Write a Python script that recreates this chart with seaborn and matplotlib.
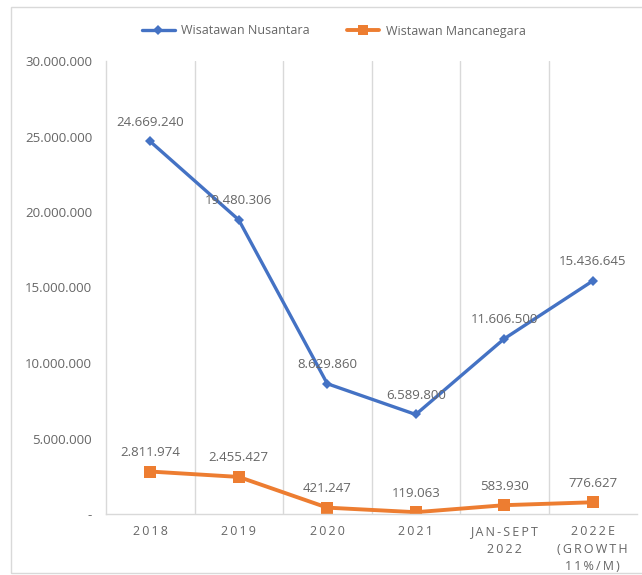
import matplotlib
matplotlib.use("Agg")
import matplotlib.pyplot as plt
from matplotlib.patches import Rectangle
from matplotlib.lines import Line2D
from matplotlib.ticker import FuncFormatter
import seaborn as sns
import pandas as pd

# Data
categories = ["2018", "2019", "2020", "2021", "JAN-SEPT\n2022", "2022E\n(GROWTH\n11%/M)"]
nusantara = [24669240, 19480306, 8629860, 6589800, 11606500, 15436645]
mancanegara = [2811974, 2455427, 421247, 119063, 583930, 776627]
series_names = ["Wisatawan Nusantara", "Wistawan Mancanegara"]

BLUE = "#4472C4"
ORANGE = "#ED7D31"
TEXT = "#666666"
GRID = "#D9D9D9"

sns.set_theme(style="white")
plt.rcParams["font.family"] = ["Open Sans", "DejaVu Sans"]

def spaced(label):
    # widen letter spacing of the category labels
    return "\n".join("\u2009".join(line) for line in label.split("\n"))

def dotted(v):
    return f"{int(v):,}".replace(",", ".")

pos = list(range(len(categories)))
df = pd.DataFrame({
    "pos": pos * 2,
    "value": nusantara + mancanegara,
    "series": [series_names[0]] * len(pos) + [series_names[1]] * len(pos),
})

fig = plt.figure(figsize=(6.42, 5.75), dpi=100)
fig.patch.set_facecolor("white")
fig.patches.append(Rectangle((11 / 642, 1 - 573 / 575), 1.0, 566 / 575,
                             transform=fig.transFigure, fill=False,
                             edgecolor=GRID, linewidth=1.0))

ax = fig.add_axes([106 / 642, 1 - 514 / 575, 531 / 642, 453 / 575])

sns.lineplot(data=df, x="pos", y="value", hue="series", style="series",
             markers={series_names[0]: "D", series_names[1]: "s"},
             dashes=False, palette={series_names[0]: BLUE, series_names[1]: ORANGE},
             ax=ax, legend=False)
lines = ax.get_lines()
lines[0].set_linewidth(2.4)
lines[0].set_markersize(5.5)
lines[1].set_linewidth(2.8)
lines[1].set_markersize(8.5)
for ln in lines:
    ln.set_markeredgewidth(0)

# Value labels above each point
for values in (nusantara, mancanegara):
    for x, v in zip(pos, values):
        ax.annotate(dotted(v), (x, v), xytext=(0, 9),
                    textcoords="offset points", ha="center", va="bottom",
                    fontsize=9.5, color=TEXT)

ax.set_xlim(-0.5, len(categories) - 0.5)
ax.set_ylim(0, 30000000)
ax.set_yticks(range(0, 30000001, 5000000))
ax.yaxis.set_major_formatter(FuncFormatter(lambda v, _: "-" if v == 0 else dotted(v)))
ax.set_xticks(pos, [spaced(c) for c in categories])
ax.tick_params(axis="both", length=0, colors=TEXT)
ax.tick_params(axis="y", pad=10, labelsize=9.5)
ax.tick_params(axis="x", pad=8, labelsize=9)
for lbl in ax.get_xticklabels():
    lbl.set_linespacing(1.45)
ax.set_xlabel("")
ax.set_ylabel("")

# Vertical separators between categories
for b in [i + 0.5 for i in pos[:-1]]:
    ax.axvline(b, color=GRID, linewidth=1.0, zorder=0)

for side in ["top", "right"]:
    ax.spines[side].set_visible(False)
for side in ["left", "bottom"]:
    ax.spines[side].set_color(GRID)
    ax.spines[side].set_linewidth(1.0)

handles = [
    Line2D([], [], color=BLUE, linewidth=2.4, marker="D", markersize=5, markeredgewidth=0),
    Line2D([], [], color=ORANGE, linewidth=2.8, marker="s", markersize=7, markeredgewidth=0),
]
fig.legend(handles, series_names, loc="center", bbox_to_anchor=(0.52, 1 - 31 / 575),
           ncol=2, frameon=False, fontsize=9, labelcolor=TEXT,
           handlelength=2.6, columnspacing=3.0, handletextpad=0.5)

fig.savefig("out.png", dpi=100, facecolor="white")
